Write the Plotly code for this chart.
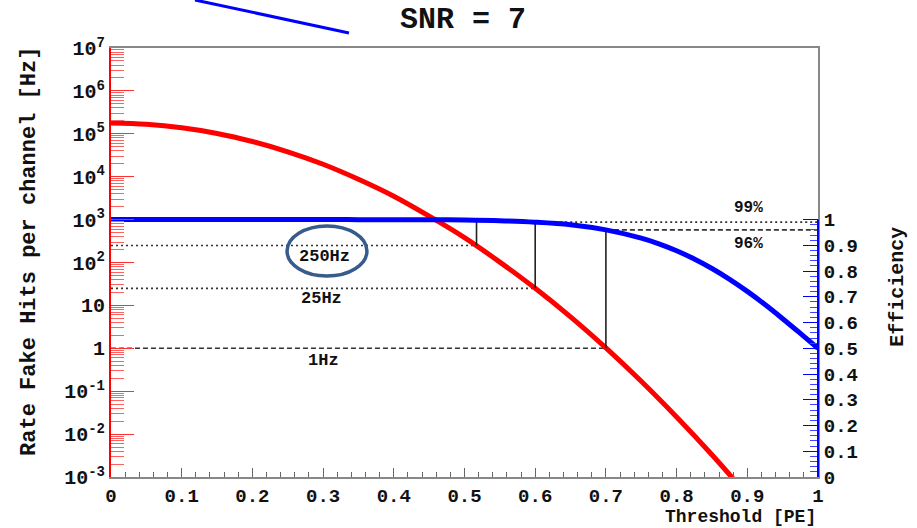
import math
import plotly.graph_objects as go

# ---- data ----
rate_threshold = [0.0, 0.05, 0.1, 0.15, 0.2, 0.25, 0.3, 0.35, 0.4, 0.45, 0.5,
                  0.55, 0.6, 0.65, 0.7, 0.75, 0.8, 0.85, 0.88]
rate_hz = [1.78e5, 1.66e5, 1.38e5, 1.02e5, 6.6e4, 3.8e4, 1.95e4, 8.7e3, 3.5e3,
           1.2e3, 380, 102, 25, 5.4, 1.02, 0.17, 0.025, 3.3e-3, 9.1e-4]

eff_threshold = [0.0, 0.1, 0.2, 0.3, 0.35, 0.4, 0.45, 0.5, 0.55, 0.6, 0.65, 0.7,
                 0.75, 0.775, 0.8, 0.825, 0.85, 0.875, 0.9, 0.925, 0.95, 0.975, 1.0]
efficiency = [1.0, 1.0, 1.0, 1.0, 0.9999, 0.9998, 0.9994, 0.9983, 0.9957, 0.990,
              0.980, 0.960, 0.928, 0.906, 0.879, 0.847, 0.810, 0.768, 0.721,
              0.670, 0.615, 0.558, 0.5]

cut_threshold = [0.517, 0.6, 0.7]
cut_rate = [250, 25, 1]
cut_eff = [0.998, 0.99, 0.96]
cut_labels = ["250Hz", "25Hz", "1Hz"]
cut_dash = ["2px,3px", "2px,3px", "5px,3px"]

eff_level_threshold = [0.6, 0.7]
eff_levels = [0.99, 0.96]
eff_labels = ["99%", "96%"]
eff_dash = ["2px,3px", "5px,3px"]

x_ticks = [0, 0.1, 0.2, 0.3, 0.4, 0.5, 0.6, 0.7, 0.8, 0.9, 1.0]
x_ticktext = ["0", "0.1", "0.2", "0.3", "0.4", "0.5", "0.6", "0.7", "0.8", "0.9", "1"]
y_ticks = [1e-3, 1e-2, 1e-1, 1, 10, 1e2, 1e3, 1e4, 1e5, 1e6, 1e7]
y_ticktext = ["10<sup>-3</sup>", "10<sup>-2</sup>", "10<sup>-1</sup>", "1", "10",
              "10<sup>2</sup>", "10<sup>3</sup>", "10<sup>4</sup>", "10<sup>5</sup>",
              "10<sup>6</sup>", "10<sup>7</sup>"]
eff_ticks = [0, 0.1, 0.2, 0.3, 0.4, 0.5, 0.6, 0.7, 0.8, 0.9, 1.0]
eff_ticktext = ["0", "0.1", "0.2", "0.3", "0.4", "0.5", "0.6", "0.7", "0.8", "0.9", "1"]

LOG_MIN, LOG_MAX = -3, 7
Y2_MAX = 1.0 / 0.6  # efficiency axis: 1 aligns with 10^3


def rate_to_y2(r):
    return (math.log10(r) - LOG_MIN) / (LOG_MAX - LOG_MIN) * Y2_MAX


FONT = "Liberation Mono, Courier New, monospace"

fig = go.Figure()

# horizontal rate levels
for xc, rc, d in zip(cut_threshold, cut_rate, cut_dash):
    fig.add_trace(go.Scatter(x=[0, xc], y=[rc, rc], mode="lines",
                             line=dict(color="#333333", width=1.6, dash=d),
                             yaxis="y", hoverinfo="skip"))
# efficiency levels
for xl, el, d in zip(eff_level_threshold, eff_levels, eff_dash):
    fig.add_trace(go.Scatter(x=[xl, 1.0], y=[el, el], mode="lines",
                             line=dict(color="#333333", width=1.6, dash=d),
                             yaxis="y2", hoverinfo="skip"))
# vertical connectors
for xc, rc, ec in zip(cut_threshold, cut_rate, cut_eff):
    fig.add_trace(go.Scatter(x=[xc, xc], y=[rate_to_y2(rc), ec], mode="lines",
                             line=dict(color="#222222", width=1.6),
                             yaxis="y2", hoverinfo="skip"))

# rate curve
fig.add_trace(go.Scatter(x=rate_threshold, y=rate_hz, mode="lines",
                         line=dict(color="#ff0000", width=5, shape="spline"),
                         yaxis="y"))
# efficiency curve
fig.add_trace(go.Scatter(x=eff_threshold, y=efficiency, mode="lines",
                         line=dict(color="#0000ff", width=5, shape="spline"),
                         yaxis="y2"))

annotations = []
label_shift = [-11, -10, -12]
label_x = [0.302, 0.298, 0.300]
for lx, rc, t, s in zip(label_x, cut_rate, cut_labels, label_shift):
    annotations.append(dict(x=lx, y=math.log10(rc), xref="x", yref="y", text=t,
                            showarrow=False, yshift=s,
                            font=dict(family=FONT, size=17, color="#111", weight="bold")))
for el, t, s in zip(eff_levels, eff_labels, [14, -14]):
    annotations.append(dict(x=0.901, y=el, xref="x", yref="y2", text=t,
                            showarrow=False, yshift=s,
                            font=dict(family=FONT, size=16, color="#111", weight="bold")))
# axis titles
annotations.append(dict(x=-0.1146, y=0.527, xref="paper", yref="paper",
                        text="Rate Fake Hits per channel [Hz]", textangle=-90,
                        xanchor="center", yanchor="middle", showarrow=False,
                        font=dict(family=FONT, size=22, color="#111", weight="bold")))
annotations.append(dict(x=1.113, y=0.443, xref="paper", yref="paper",
                        text="Efficiency", textangle=-90, xanchor="center",
                        yanchor="middle", showarrow=False,
                        font=dict(family=FONT, size=20, color="#111", weight="bold")))
annotations.append(dict(x=1.0, y=-0.094, xref="paper", yref="paper",
                        text="Threshold [PE]", xanchor="right", yanchor="middle",
                        showarrow=False,
                        font=dict(family=FONT, size=18, color="#111", weight="bold")))
annotations.append(dict(x=0.498, y=1.065, xref="paper", yref="paper",
                        text="SNR = 7", xanchor="center", yanchor="middle",
                        showarrow=False,
                        font=dict(family=FONT, size=30, color="#111", weight="bold")))

shapes = [
    # blue efficiency spine (0..1 only)
    dict(type="line", xref="paper", yref="y2", x0=1, x1=1, y0=0, y1=1,
         line=dict(color="#0000ff", width=2)),
    # ellipse highlight
    dict(type="circle", xref="x", yref="paper", x0=0.249, x1=0.362, y0=0.4685, y1=0.585,
         line=dict(color="#375c8c", width=3.5)),
    # slide pen stroke at top
    dict(type="line", xref="paper", yref="paper", x0=0.1188, y0=1.1119, x1=0.3366, y1=1.035,
         line=dict(color="#0000ff", width=3)),
]

eff_minor = [round(i * 0.02, 2) for i in range(51)]

fig.update_layout(
    width=917, height=528,
    margin=dict(l=111, r=99, t=48, b=51),
    paper_bgcolor="white", plot_bgcolor="white",
    showlegend=False,
    annotations=annotations, shapes=shapes,
    xaxis=dict(range=[0, 1], tickmode="array", tickvals=x_ticks, ticktext=x_ticktext,
               ticks="inside", ticklen=9, tickcolor="#666", tickwidth=1,
               minor=dict(tickmode="linear", tick0=0, dtick=0.02, ticks="inside",
                          ticklen=5, tickcolor="#666", showgrid=False),
               showgrid=False, zeroline=False, showline=True, linecolor="#888",
               linewidth=2, mirror=True,
               tickfont=dict(family=FONT, size=19, color="#111", weight="bold")),
    yaxis=dict(type="log", range=[LOG_MIN, LOG_MAX], tickmode="array", tickvals=y_ticks,
               ticktext=y_ticktext, ticks="inside", ticklen=23, tickcolor="#ff3030",
               tickwidth=1,
               minor=dict(tickmode="linear", dtick="D1", ticks="inside", ticklen=13,
                          tickcolor="#ff6060", showgrid=False),
               showgrid=False, zeroline=False, showline=True, linecolor="#ff0000",
               linewidth=2,
               tickfont=dict(family=FONT, size=20, color="#111", weight="bold")),
    yaxis2=dict(overlaying="y", side="right", range=[0, Y2_MAX], tickmode="array",
                tickvals=eff_ticks, ticktext=eff_ticktext, ticks="inside", ticklen=15,
                tickcolor="#0000ff", tickwidth=1,
                minor=dict(tickmode="array", tickvals=eff_minor, ticks="inside",
                           ticklen=8, tickcolor="#4040ff", showgrid=False),
                showgrid=False, zeroline=False, showline=True, linecolor="#888",
                linewidth=2,
                tickfont=dict(family=FONT, size=19, color="#111", weight="bold")),
)

fig.write_html("out.html")
